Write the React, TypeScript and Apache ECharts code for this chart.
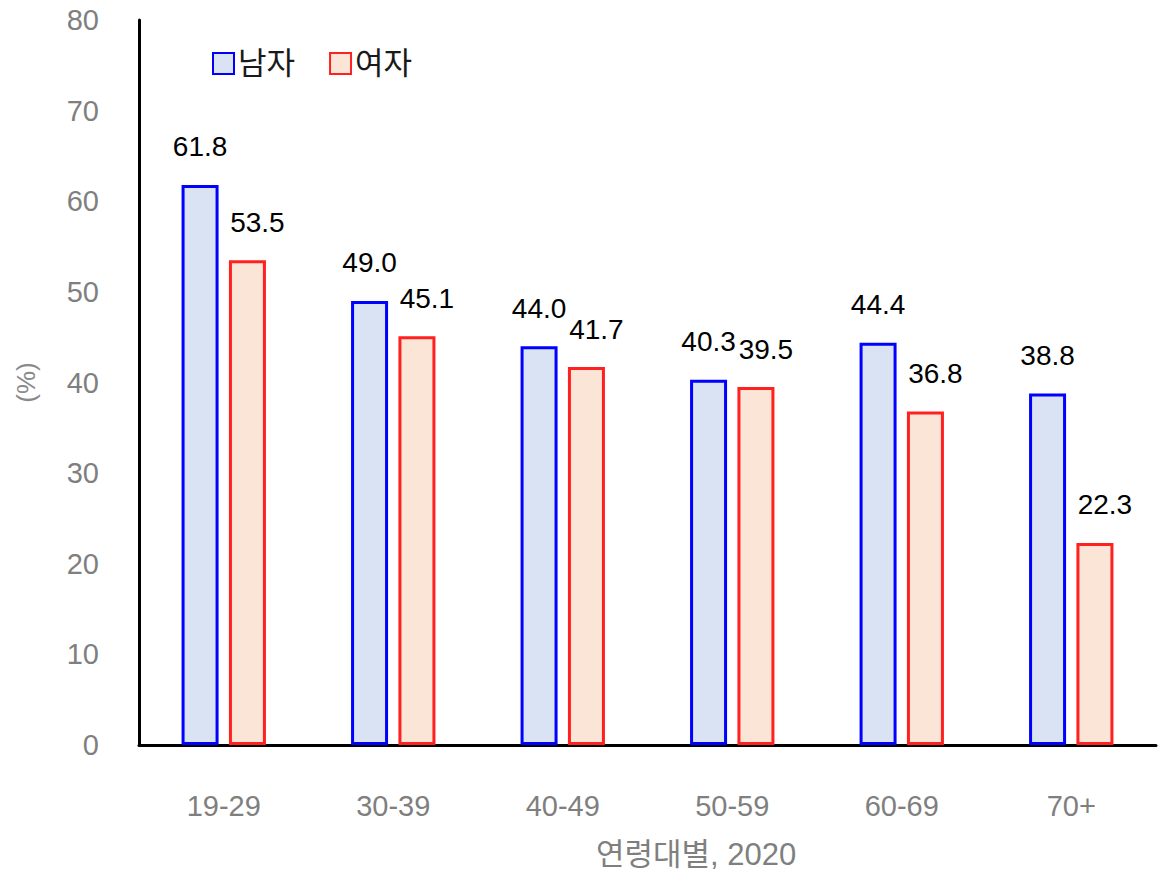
import React, { useEffect, useRef } from "react";
import * as echarts from "echarts";

const categories = ["19-29", "30-39", "40-49", "50-59", "60-69", "70+"];
const maleValues = [61.8, 49.0, 44.0, 40.3, 44.4, 38.8];
const femaleValues = [53.5, 45.1, 41.7, 39.5, 36.8, 22.3];
const seriesNames = ["남자", "여자"];
const xAxisTitle = "연령대별, 2020";
const yAxisTitle = "(%)";

const FONT = "'Liberation Sans', Arial, 'Noto Sans CJK KR', sans-serif";

export default function App() {
  const ref = useRef<HTMLDivElement>(null);

  useEffect(() => {
    if (!ref.current) return;
    const chart = echarts.init(ref.current, undefined, { renderer: "svg" });

    const labelStyle = {
      show: true,
      position: "top" as const,
      distance: 24,
      color: "#000",
      fontSize: 28,
      fontFamily: FONT,
      formatter: (p: any) => Number(p.value).toFixed(1),
    };

    chart.setOption({
      animation: false,
      textStyle: { fontFamily: FONT },
      grid: { left: 139, right: 17, top: 20, bottom: 130, containLabel: false },
      legend: {
        left: 207,
        top: 43,
        itemWidth: 21,
        itemHeight: 21,
        itemGap: 34,
        icon: "rect",
        textStyle: { fontSize: 31, color: "#1a1a1a", fontFamily: FONT, padding: [0, 0, 0, -1] },
        data: seriesNames,
      },
      xAxis: {
        type: "category",
        data: categories,
        axisLine: { lineStyle: { color: "#000", width: 3 } },
        axisTick: { show: false },
        axisLabel: { color: "#7f7f7f", fontSize: 29, margin: 46, fontFamily: FONT },
      },
      yAxis: {
        type: "value",
        min: 0,
        max: 80,
        interval: 10,
        name: yAxisTitle,
        nameLocation: "middle",
        nameGap: 100,
        nameRotate: 90,
        nameTextStyle: { color: "#8a8a8a", fontSize: 26, fontFamily: FONT },
        axisLine: { show: true, lineStyle: { color: "#000", width: 3 } },
        axisTick: { show: false },
        splitLine: { show: false },
        axisLabel: { color: "#7f7f7f", fontSize: 29, margin: 40, fontFamily: FONT },
      },
      graphic: [
        {
          type: "text",
          left: 596,
          top: 839,
          style: {
            text: xAxisTitle,
            fontSize: 31,
            fill: "#7f7f7f",
            fontFamily: FONT,
          },
        },
      ],
      series: [
        {
          name: seriesNames[0],
          type: "bar",
          data: maleValues,
          barWidth: 37,
          barGap: "28%",
          itemStyle: { color: "#dae3f3", borderColor: "#0000ff", borderWidth: 3 },
          label: labelStyle,
        },
        {
          name: seriesNames[1],
          type: "bar",
          data: femaleValues,
          barWidth: 37,
          itemStyle: { color: "#fbe5d6", borderColor: "#ff2020", borderWidth: 3 },
          label: { ...labelStyle, offset: [10, 0] },
        },
      ],
    });

    return () => chart.dispose();
  }, []);

  return (
    <div
      ref={ref}
      style={{ position: "fixed", left: 0, top: 0, width: 1173, height: 875, background: "#fff" }}
    />
  );
}
